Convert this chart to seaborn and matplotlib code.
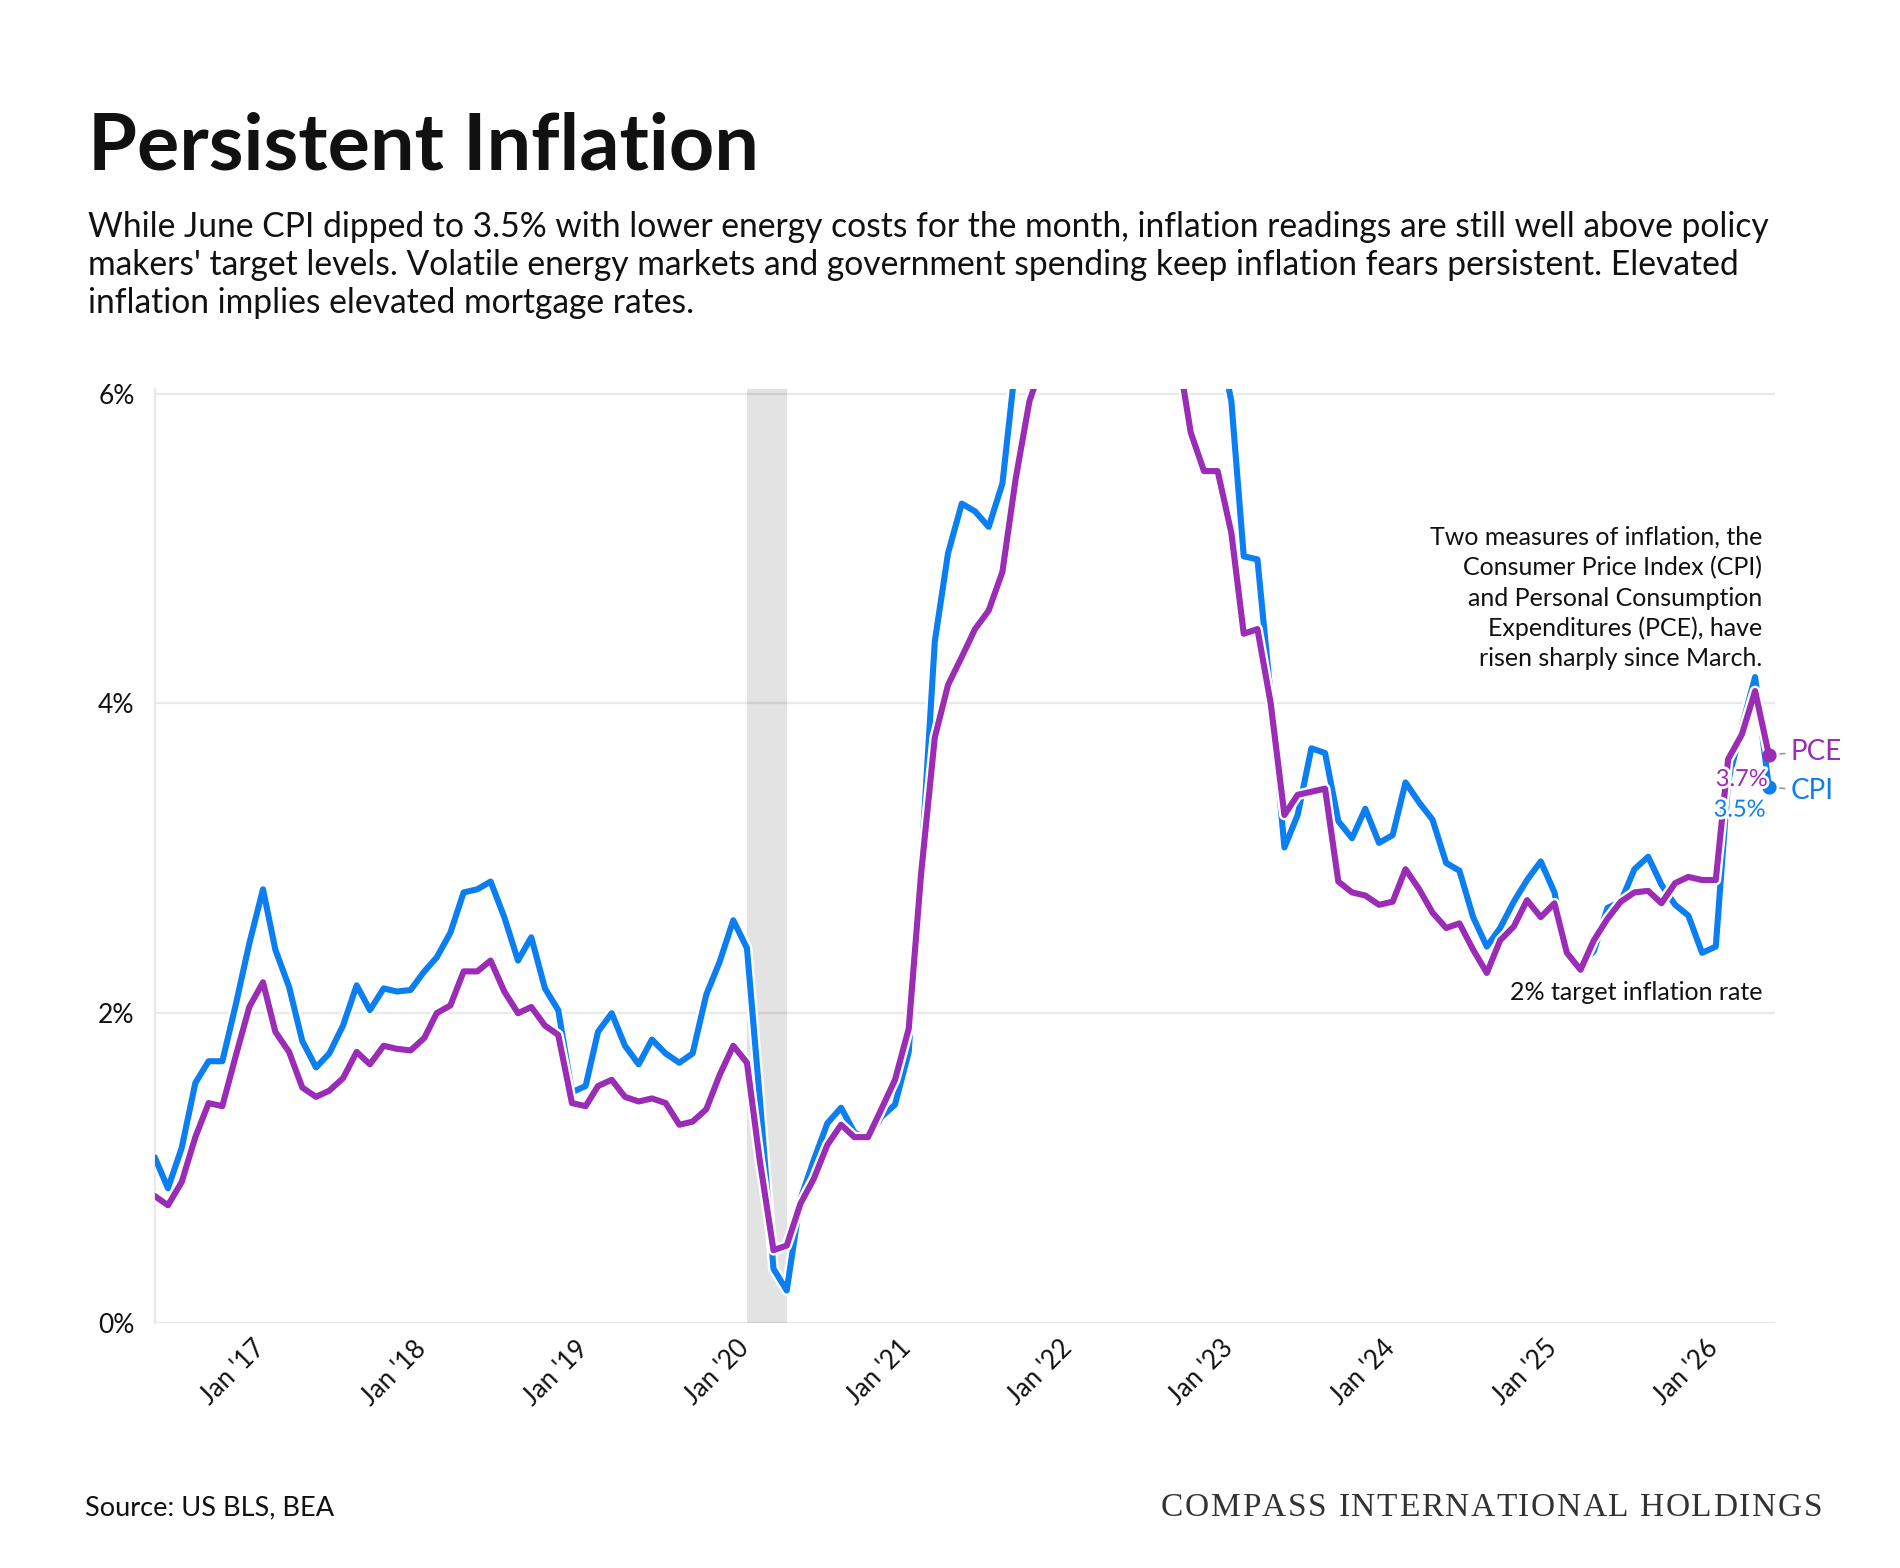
import numpy as np
import pandas as pd
import seaborn as sns
import matplotlib.pyplot as plt
import matplotlib.dates as mdates
import matplotlib.patheffects as pe
from matplotlib.font_manager import FontProperties
from matplotlib.transforms import ScaledTranslation, blended_transform_factory

# monthly year-over-year inflation, Jun 2016 .. Jun 2026
months = pd.date_range('2016-06-01', '2026-06-01', freq='MS')

cpi = [1.07, 0.87, 1.13, 1.55, 1.69, 1.69, 2.05,
       2.45, 2.80, 2.41, 2.17, 1.82, 1.65, 1.74, 1.92, 2.18, 2.02, 2.16, 2.14,
       2.15, 2.27, 2.36, 2.52, 2.78, 2.80, 2.85, 2.62, 2.34, 2.49, 2.16, 2.02,
       1.49, 1.53, 1.88, 2.00, 1.79, 1.67, 1.83, 1.74, 1.68, 1.74, 2.12, 2.33,
       2.60, 2.42, 1.45, 0.35, 0.21, 0.80, 1.05, 1.29, 1.39, 1.23, 1.19, 1.33,
       1.41, 1.75, 2.95, 4.40, 4.97, 5.29, 5.24, 5.14, 5.42, 6.20, 6.80, 7.00,
       7.50, 7.90, 8.50, 8.30, 8.60, 9.10, 8.50, 8.30, 8.20, 7.70, 7.10, 6.50,
       6.40, 5.95, 4.95, 4.93, 4.05, 3.07, 3.28, 3.71, 3.68, 3.24, 3.13, 3.32,
       3.10, 3.15, 3.49, 3.36, 3.25, 2.97, 2.92, 2.62, 2.43, 2.55, 2.72, 2.86,
       2.98, 2.78, 2.38, 2.31, 2.40, 2.68, 2.72, 2.93, 3.01, 2.83, 2.70, 2.63,
       2.39, 2.43, 3.50, 3.85, 4.17, 3.46]

pce = [0.82, 0.76, 0.91, 1.20, 1.42, 1.40, 1.72,
       2.04, 2.20, 1.88, 1.75, 1.52, 1.46, 1.50, 1.58, 1.75, 1.67, 1.79, 1.77,
       1.76, 1.84, 2.00, 2.05, 2.27, 2.27, 2.34, 2.14, 2.00, 2.04, 1.92, 1.86,
       1.42, 1.40, 1.53, 1.57, 1.46, 1.43, 1.45, 1.42, 1.28, 1.30, 1.38, 1.60,
       1.79, 1.68, 1.05, 0.47, 0.50, 0.77, 0.93, 1.15, 1.28, 1.20, 1.20, 1.38,
       1.57, 1.90, 2.90, 3.78, 4.12, 4.30, 4.48, 4.60, 4.85, 5.45, 5.95, 6.20,
       6.30, 6.60, 6.80, 6.40, 6.50, 7.00, 6.40, 6.30, 6.30, 6.30, 5.75, 5.50,
       5.50, 5.10, 4.45, 4.48, 4.00, 3.28, 3.41, 3.43, 3.45, 2.85, 2.78, 2.76,
       2.70, 2.72, 2.93, 2.80, 2.65, 2.55, 2.58, 2.41, 2.26, 2.47, 2.56, 2.73,
       2.62, 2.71, 2.39, 2.28, 2.47, 2.61, 2.72, 2.78, 2.79, 2.71, 2.84, 2.88,
       2.86, 2.86, 3.64, 3.80, 4.08, 3.67]

year_ticks = pd.date_range('2017-01-01', '2026-01-01', freq='YS')
year_labels = [f"Jan '{d:%y}" for d in year_ticks]
pct_ticks = [0, 2, 4, 6]
pct_labels = [f'{v}%' for v in pct_ticks]
recession = ('2020-02-01', '2020-05-01')

title = 'Persistent Inflation'
subtitle_lines = [
    'While June CPI dipped to 3.5% with lower energy costs for the month, inflation readings are still well above policy',
    "makers' target levels. Volatile energy markets and government spending keep inflation fears persistent. Elevated",
    'inflation implies elevated mortgage rates.',
]
note_lines = [
    'Two measures of inflation, the',
    'Consumer Price Index (CPI)',
    'and Personal Consumption',
    'Expenditures (PCE), have',
    'risen sharply since March.',
]
brand = 'COMPASS INTERNATIONAL HOLDINGS'

CPI_COLOR = '#0b7ff2'
PCE_COLOR = '#9a2cb6'
GRID = '#e9e9e9'
INK = '#111111'
W, H = 1900, 1568

sns.set_theme(style='white')
plt.rcParams['font.family'] = ['Lato', 'DejaVu Sans']

df = pd.DataFrame({'date': months, 'CPI': cpi, 'PCE': pce})

fig = plt.figure(figsize=(W / 100, H / 100), dpi=100)
ax = fig.add_axes([154.7 / W, 245 / H, (1775 - 154.7) / W, 934 / H])

halo = [pe.Stroke(linewidth=7.8, foreground='white'), pe.Normal()]
sns.lineplot(data=df, x='date', y='CPI', color=CPI_COLOR, linewidth=4.4, ax=ax,
             path_effects=halo, solid_joinstyle='round', solid_capstyle='round', zorder=3)
sns.lineplot(data=df, x='date', y='PCE', color=PCE_COLOR, linewidth=4.4, ax=ax,
             path_effects=halo, solid_joinstyle='round', solid_capstyle='round', zorder=4)

ax.axvspan(pd.Timestamp(recession[0]), pd.Timestamp(recession[1]),
           color='black', alpha=0.11, lw=0, zorder=1.5)

ax.set_xlim(months[0], months[-1] + pd.Timedelta(days=14))
ax.set_ylim(0, 6.03)
ax.set_xlabel('')
ax.set_ylabel('')

ax.set_yticks(pct_ticks)
ax.set_yticklabels(pct_labels)
ax.set_xticks(year_ticks)
ax.set_xticklabels(year_labels, rotation=45, ha='right', va='center', rotation_mode='anchor')
ax.tick_params(axis='y', length=9.5, width=1.4, color=GRID, pad=5, labelsize=19, labelcolor=INK)
ax.tick_params(axis='x', length=8.6, width=1.4, color=GRID, pad=7, labelsize=18.5, labelcolor=INK)
for lbl in ax.get_xticklabels():
    lbl.set_transform(lbl.get_transform() + ScaledTranslation(12 / 100, 0, fig.dpi_scale_trans))

ax.grid(axis='y', color=GRID, linewidth=1.7)
ax.grid(axis='x', visible=False)
ax.set_axisbelow(True)
sns.despine(ax=ax, top=True, right=True, bottom=True, left=False)
ax.spines['left'].set_color(GRID)
ax.spines['left'].set_linewidth(1.7)

# end points and labels
last = df.iloc[-1]
lx = mdates.date2num(last['date'])
ax.scatter([lx], [last['CPI']], s=105, color=CPI_COLOR, zorder=5, linewidths=0, clip_on=False)
ax.scatter([lx], [last['PCE']], s=105, color=PCE_COLOR, zorder=6, linewidths=0, clip_on=False)

leader = dict(arrowstyle='-', color='#9a9a9a', lw=1.2, shrinkA=2, shrinkB=8)
ax.annotate('PCE', xy=(lx, last['PCE']), xytext=(22, 3), textcoords='offset pixels',
            ha='left', va='center', fontsize=20, color=PCE_COLOR, arrowprops=leader,
            annotation_clip=False)
ax.annotate('CPI', xy=(lx, last['CPI']), xytext=(22, -4), textcoords='offset pixels',
            ha='left', va='center', fontsize=20, color=CPI_COLOR, arrowprops=leader,
            annotation_clip=False)

value_halo = [pe.withStroke(linewidth=4, foreground='white')]
ax.annotate(f"{last['PCE']:.1f}%", xy=(lx, last['PCE']), xytext=(-1, -25),
            textcoords='offset pixels', ha='right', va='center', fontsize=17,
            color=PCE_COLOR, path_effects=value_halo, zorder=7)
ax.annotate(f"{last['CPI']:.1f}%", xy=(lx, last['CPI']), xytext=(-3, -23),
            textcoords='offset pixels', ha='right', va='center', fontsize=17,
            color=CPI_COLOR, path_effects=value_halo, zorder=7)

target = blended_transform_factory(ax.transAxes, ax.transData)
ax.annotate('2% target inflation rate', xy=(1, 2), xycoords=target, xytext=(-13, 13),
            textcoords='offset pixels', ha='right', va='baseline', fontsize=18, color=INK)

for i, line in enumerate(note_lines):
    fig.text(1762 / W, 1 - (545 + 30.3 * i) / H, line, ha='right', va='baseline',
             fontsize=18, color=INK)

# header and footer
fig.text(88 / W, 1 - 169 / H, title, fontsize=57, fontweight='bold', ha='left',
         va='baseline', color=INK)
for i, line in enumerate(subtitle_lines):
    fig.text(88 / W, 1 - (236.7 + 38.3 * i) / H, line, fontsize=24.2, ha='left',
             va='baseline', color=INK)

fig.text(85 / W, 1 - 1515 / H, 'Source: US BLS, BEA', fontsize=19.5, ha='left',
         va='baseline', color=INK)

# brand line, letter-spaced to its full width
renderer = fig.canvas.get_renderer()
brand_font = FontProperties(family=['Liberation Serif', 'DejaVu Serif'], size=24)
char_w = [renderer.get_text_width_height_descent(c, brand_font, ismath=False)[0] for c in brand]
brand_left, brand_right = 1161, 1822
track = (brand_right - brand_left - sum(char_w)) / (len(brand) - 1)
x = brand_left
for c, w in zip(brand, char_w):
    fig.text(x / W, 1 - 1516 / H, c, fontproperties=brand_font, ha='left',
             va='baseline', color='#333333')
    x += w + track

fig.savefig('out.png', dpi=100, facecolor='white')
